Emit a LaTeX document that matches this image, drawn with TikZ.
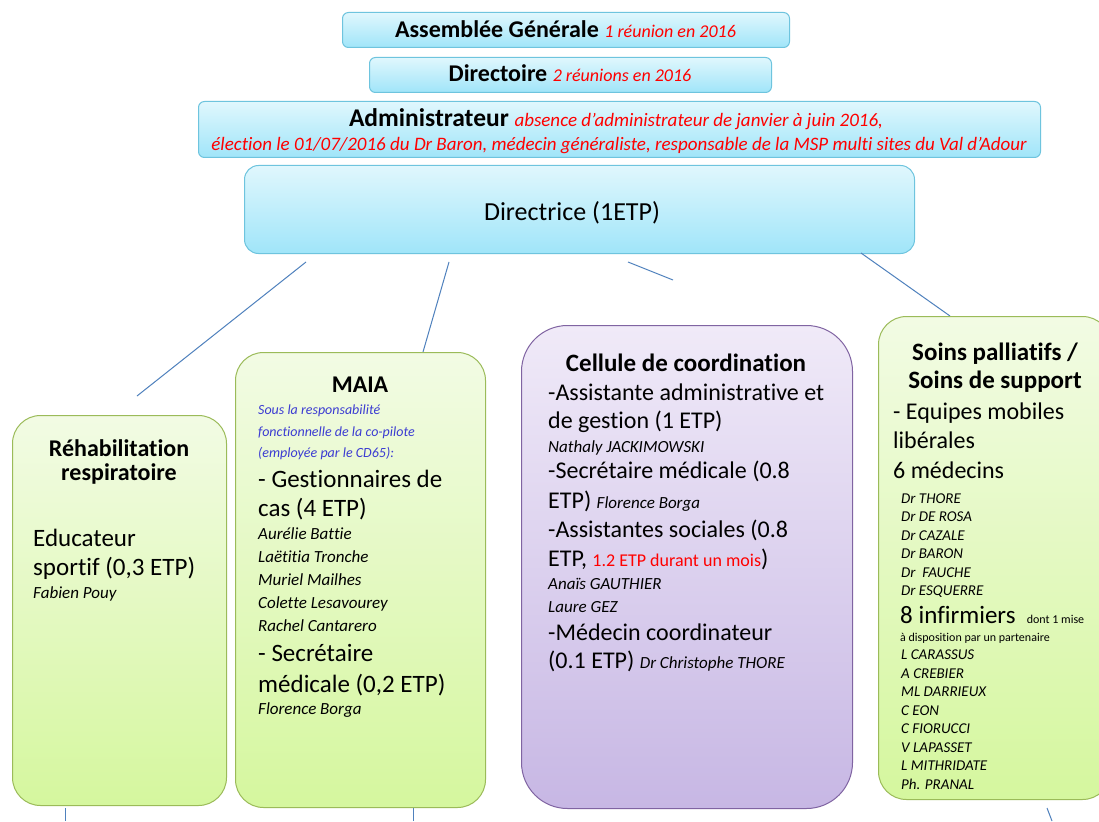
\documentclass[tikz,border=0pt]{standalone}
\usepackage{fontspec}
\setmainfont{Carlito}[Ligatures=NoCommon]
\definecolor{btop}{RGB}{224,247,253}
\definecolor{bbot}{RGB}{160,229,249}
\definecolor{bline}{RGB}{110,196,222}
\definecolor{gtop}{RGB}{242,251,228}
\definecolor{gbot}{RGB}{213,247,158}
\definecolor{gline}{RGB}{155,187,89}
\definecolor{ptop}{RGB}{240,234,248}
\definecolor{pbot}{RGB}{199,183,228}
\definecolor{pline}{RGB}{128,100,162}
\definecolor{conn}{RGB}{79,129,189}
\definecolor{bluetxt}{RGB}{60,60,210}
\definecolor{redtxt}{RGB}{255,0,0}
\newcommand\myfs[1]{\fontsize{#1}{#1}\selectfont}
\tikzset{
  boxbase/.style={inner sep=0pt, anchor=north west, line width=1pt},
  bluebox/.style={boxbase, draw=bline, top color=btop, bottom color=bbot, rounded corners=6pt},
  greenbox/.style={boxbase, draw=gline, top color=gtop, bottom color=gbot, rounded corners=28pt},
  purplebox/.style={boxbase, draw=pline, top color=ptop, bottom color=pbot, rounded corners=46pt},
  ln/.style={inner sep=0pt, anchor=base west},
  lc/.style={inner sep=0pt, anchor=base},
  connector/.style={draw=conn, line width=1pt},
  ttl/.style={font=\bfseries\myfs{24}},
  body/.style={font=\myfs{25}},
  nm/.style={font=\itshape\myfs{17}},
  nms/.style={font=\itshape\myfs{15}},
}
\begin{document}
\begin{tikzpicture}[x=1pt,y=-1pt]
\clip (0,0) rectangle (1099,821);
\fill[white] (0,0) rectangle (1099,821);

% header boxes
\node[bluebox, minimum width=447pt, minimum height=35pt] (ag) at (342,12) {};
\node[lc] (agt) at (565.5,38) {\bfseries\myfs{24}Assemblée Générale \mdseries\itshape\color{redtxt}\myfs{18}1 réunion en 2016};
\node[bluebox, minimum width=402pt, minimum height=35pt] (dir) at (369,57) {};
\node[lc] (dirt) at (570,82) {\bfseries\myfs{24}Directoire \mdseries\itshape\color{redtxt}\myfs{18}2 réunions en 2016};
\node[bluebox, minimum width=842pt, minimum height=56pt] (adm) at (198,101) {};
\node[lc] (admt1) at (616,127) {\bfseries\myfs{25.5}Administrateur \mdseries\itshape\color{redtxt}\myfs{19}absence d’administrateur de janvier à juin 2016,};
\node[lc] (admt2) at (619,151) {\itshape\color{redtxt}\myfs{19}élection le 01/07/2016 du Dr Baron, médecin généraliste, responsable de la MSP multi sites du Val d’Adour};
\node[bluebox, rounded corners=14pt, minimum width=670pt, minimum height=88pt] (dirc) at (244,165) {};
\node[lc] (dirct) at (572,220) {\myfs{26}Directrice (1ETP)};

% connectors
\coordinate (c1a) at (306,262); \coordinate (c1b) at (137,396);
\coordinate (c2a) at (449,262); \coordinate (c2b) at (423,352);
\coordinate (c3a) at (628,262); \coordinate (c3b) at (673,280);
\coordinate (c4a) at (861,253); \coordinate (c4b) at (950,316);
\coordinate (s1a) at (65,808); \coordinate (s1b) at (65,821);
\coordinate (s2a) at (413,808); \coordinate (s2b) at (413,821);
\coordinate (s3a) at (1047,808); \coordinate (s3b) at (1052,821);
\draw[connector] (c1a) -- (c1b);
\draw[connector] (c2a) -- (c2b);
\draw[connector] (c3a) -- (c3b);
\draw[connector] (c4a) -- (c4b);
\draw[connector] (s1a) -- (s1b);
\draw[connector] (s2a) -- (s2b);
\draw[connector] (s3a) -- (s3b);

% Rehabilitation
\node[greenbox, minimum width=214pt, minimum height=390pt] (reh) at (12,415) {};
\node[lc, ttl] (reh1) at (119,456) {Réhabilitation};
\node[lc, ttl] (reh2) at (119,480) {respiratoire};
\node[ln, body] (reh3) at (33,546) {Educateur};
\node[ln, body] (reh4) at (33,575) {sportif (0,3 ETP)};
\node[ln, nm] (reh5) at (33,598) {Fabien Pouy};

% MAIA
\node[greenbox, minimum width=250pt, minimum height=455pt] (maia) at (235,352) {};
\node[lc, ttl] (maia1) at (360,392) {MAIA};
\node[ln, font=\itshape\myfs{14}, text=bluetxt] (maia2) at (258,414) {Sous la responsabilité};
\node[ln, font=\itshape\myfs{14}, text=bluetxt] (maia3) at (258,436) {fonctionnelle de la co-pilote};
\node[ln, font=\itshape\myfs{14}, text=bluetxt] (maia4) at (258,457) {(employée par le CD65):};
\node[ln, body] (maia5) at (258,487) {- Gestionnaires de};
\node[ln, body] (maia6) at (258,516) {cas (4 ETP)};
\node[ln, nm] (maia7) at (258,539) {Aurélie Battie};
\node[ln, nm] (maia8) at (258,562) {Laëtitia Tronche};
\node[ln, nm] (maia9) at (258,585) {Muriel Mailhes};
\node[ln, nm] (maia10) at (258,608) {Colette Lesavourey};
\node[ln, nm] (maia11) at (258,631) {Rachel Cantarero};
\node[ln, body] (maia12) at (258,661) {- Secrétaire};
\node[ln, body] (maia13) at (258,692) {médicale (0,2 ETP)};
\node[ln, nm] (maia14) at (258,714) {Florence Borga};

% Cellule de coordination
\node[purplebox, minimum width=331pt, minimum height=483pt] (cel) at (521,325) {};
\node[lc, font=\bfseries\myfs{25}] (cel1) at (686,371) {Cellule de coordination};
\node[ln, font=\myfs{24}] (cel2) at (548,400) {-Assistante administrative et};
\node[ln, font=\myfs{24}] (cel3) at (548,428) {de gestion (1 ETP)};
\node[ln, nm] (cel4) at (548,452) {Nathaly JACKIMOWSKI};
\node[ln, font=\myfs{24}] (cel5) at (548,478) {-Secrétaire médicale (0.8};
\node[ln, font=\myfs{24}] (cel6) at (548,508) {ETP) {\itshape\myfs{17}Florence Borga}};
\node[ln, font=\myfs{24}] (cel7) at (548,537) {-Assistantes sociales (0.8};
\node[ln, font=\myfs{24}] (cel8) at (548,566) {ETP, {\color{redtxt}\myfs{18}1.2 ETP durant un mois})};
\node[ln, nm] (cel9) at (548,589) {Anaïs GAUTHIER};
\node[ln, nm] (cel10) at (548,612) {Laure GEZ};
\node[ln, font=\myfs{24}] (cel11) at (548,640) {-Médecin coordinateur};
\node[ln, font=\myfs{24}] (cel12) at (548,668) {(0.1 ETP) {\itshape\myfs{17}Dr Christophe THORE}};

% Soins palliatifs
\node[greenbox, minimum width=232pt, minimum height=483pt] (sp) at (878,316) {};
\node[lc, font=\bfseries\myfs{25}] (sp1) at (995,360) {Soins palliatifs /};
\node[lc, font=\bfseries\myfs{25}] (sp2) at (995,388) {Soins de support};
\node[ln, font=\myfs{24}] (sp3) at (893,419) {- Equipes mobiles};
\node[ln, font=\myfs{24}] (sp4) at (893,448) {libérales};
\node[ln, font=\myfs{24}] (sp5) at (893,478) {6 médecins};
\node[ln, nms] (sp6) at (901,503) {Dr THORE};
\node[ln, nms] (sp7) at (901,521.5) {Dr DE ROSA};
\node[ln, nms] (sp8) at (901,540) {Dr CAZALE};
\node[ln, nms] (sp9) at (901,558.5) {Dr BARON};
\node[ln, nms] (sp10) at (901,577) {Dr\ \ FAUCHE};
\node[ln, nms] (sp11) at (901,595.5) {Dr ESQUERRE};
\node[ln, font=\myfs{25}] (sp12) at (900,623) {8 infirmiers\ \ {\myfs{12}dont 1 mise}};
\node[ln, font=\myfs{12}] (sp13) at (900,641) {à disposition par un partenaire};
\node[ln, nms] (sp14) at (901,659.5) {L CARASSUS};
\node[ln, nms] (sp15) at (901,678) {A CREBIER};
\node[ln, nms] (sp16) at (901,696.5) {ML DARRIEUX};
\node[ln, nms] (sp17) at (901,715) {C EON};
\node[ln, nms] (sp18) at (901,733.5) {C FIORUCCI};
\node[ln, nms] (sp19) at (901,752) {V LAPASSET};
\node[ln, nms] (sp20) at (901,770.5) {L MITHRIDATE};
\node[ln, nms] (sp21) at (901,789) {Ph. PRANAL};
\end{tikzpicture}
\end{document}
